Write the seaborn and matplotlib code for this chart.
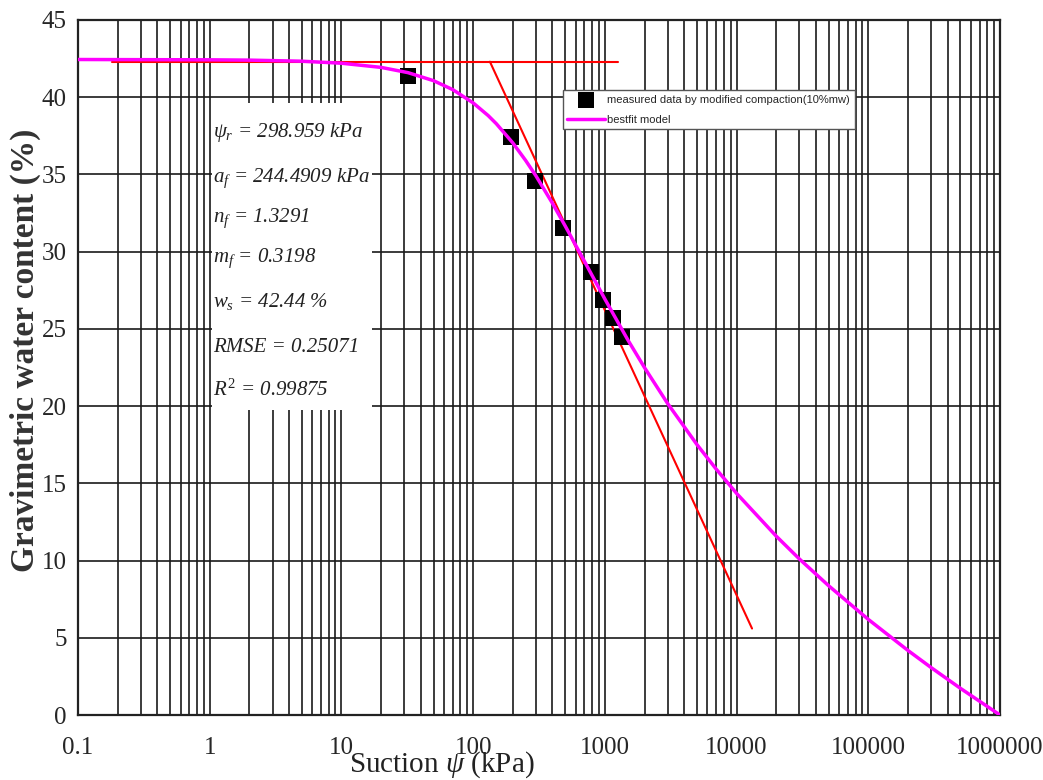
import matplotlib
matplotlib.use("Agg")
import matplotlib.pyplot as plt
import seaborn as sns
import pandas as pd
from matplotlib.ticker import FixedLocator, LogLocator, NullFormatter
from matplotlib.patches import Rectangle

# measured points
psi_measured = [32, 194, 295, 482, 785, 969, 1153, 1352]
w_measured = [41.4, 37.4, 34.6, 31.5, 28.7, 26.9, 25.7, 24.5]

# best-fit curve, sampled from the chart
psi_fit = [0.1, 1, 2, 5, 10, 20, 32, 50, 70, 100, 130, 150, 200, 250, 300, 400, 500,
           700, 1000, 1500, 2000, 3000, 5000, 7000, 10000, 20000, 30000, 50000,
           100000, 200000, 300000, 500000, 1000000]
w_fit = [42.44, 42.42, 42.40, 42.33, 42.20, 41.93, 41.59, 41.07, 40.49, 39.63, 38.81,
         38.28, 37.04, 35.91, 34.90, 33.13, 31.66, 29.37, 26.93, 24.26, 22.49, 20.16,
         17.51, 15.92, 14.35, 11.58, 10.10, 8.37, 6.19, 4.18, 3.07, 1.73, 0.0]

# red construction lines
plateau_x = [0.18, 1260]
plateau_y = [42.3, 42.3]
tangent_x = [134, 13100]
tangent_y = [42.3, 5.6]

x_ticks = [0.1, 1, 10, 100, 1000, 10000, 100000, 1000000]
x_ticklabels = ["0.1", "1", "10", "100", "1000", "10000", "100000", "1000000"]
y_ticks = [0, 5, 10, 15, 20, 25, 30, 35, 40, 45]

param_lines = [
    r"$\psi_r$ = 298.959 kPa",
    r"$a_f$ = 244.4909 kPa",
    r"$n_f$ = 1.3291",
    r"$m_f$ = 0.3198",
    r"$w_s$ = 42.44 %",
    "RMSE = 0.25071",
    r"$R^2$ = 0.99875",
]

sns.set_style("white")
plt.rcParams["font.family"] = ["Liberation Serif", "DejaVu Serif"]
plt.rcParams["mathtext.fontset"] = "custom"
plt.rcParams["mathtext.rm"] = "Liberation Serif"
plt.rcParams["mathtext.it"] = "Liberation Serif:italic"
plt.rcParams["mathtext.bf"] = "Liberation Serif:bold"

df_meas = pd.DataFrame({"psi": psi_measured, "w": w_measured})
df_fit = pd.DataFrame({"psi": psi_fit, "w": w_fit})

fig, ax = plt.subplots(figsize=(10.43, 7.8), dpi=100)
fig.subplots_adjust(left=0.0748, right=0.9588, bottom=0.0833, top=0.9744)

ax.set_xscale("log")
ax.set_xlim(0.1, 1000000)
ax.set_ylim(0, 45)

ax.plot(plateau_x, plateau_y, color="#ff0000", lw=1.5, zorder=3)
ax.plot(tangent_x, tangent_y, color="#ff0000", lw=1.5, zorder=3)

sns.scatterplot(data=df_meas, x="psi", y="w", marker="s", s=120, color="black",
                edgecolor="black", linewidth=0, ax=ax, zorder=4,
                label="measured data by modified compaction(10%mw)")
sns.lineplot(data=df_fit, x="psi", y="w", color="#ff00ff", lw=2.5, ax=ax,
             zorder=5, label="bestfit model", sort=False)

# grid
ax.xaxis.set_major_locator(FixedLocator(x_ticks))
ax.set_xticklabels(x_ticklabels)
ax.xaxis.set_minor_locator(LogLocator(base=10, subs=range(2, 10), numticks=20))
ax.xaxis.set_minor_formatter(NullFormatter())
ax.set_yticks(y_ticks)
ax.grid(which="both", axis="x", color="#1a1a1a", lw=1.2)
ax.grid(which="major", axis="y", color="#1a1a1a", lw=1.2)
ax.set_axisbelow(True)
ax.tick_params(axis="both", which="both", length=0, labelsize=18)
ax.tick_params(axis="x", pad=16)
ax.tick_params(axis="y", pad=8)
for sp in ax.spines.values():
    sp.set_color("#222222")
    sp.set_linewidth(1.6)

ax.set_ylabel("Gravimetric water content (%)", fontsize=24, fontweight="bold",
              color="#333333", va="center")
ax.yaxis.set_label_coords(-0.057, 0.525)
ax.set_xlabel(r"Suction $\psi$ (kPa)", fontsize=21, color="#222222", va="center")
ax.xaxis.set_label_coords(0.395, -0.072)

# parameter box
ax.add_patch(Rectangle((0.1453, 0.4388), 0.1735, 0.4417, transform=ax.transAxes,
                       facecolor="white", edgecolor="none", zorder=6))
line_y = [133, 178, 218, 258, 302, 348, 390]
for txt, py in zip(param_lines, line_y):
    ax.text(0.1464, (715 - py) / 695, txt, transform=ax.transAxes, fontsize=15,
            fontstyle="italic", va="center", ha="left", zorder=7, color="#222222")

leg = ax.legend(loc="upper left", bbox_to_anchor=(0.526, 0.899),
                prop={"family": "Liberation Sans", "size": 8},
                frameon=True, fancybox=False, framealpha=1, edgecolor="#555555",
                handlelength=3.4, handletextpad=0.2, labelspacing=0.9,
                borderpad=0.4, borderaxespad=0)
leg.set_zorder(8)
leg.get_frame().set_linewidth(1.0)

fig.savefig("out.png", dpi=100)
